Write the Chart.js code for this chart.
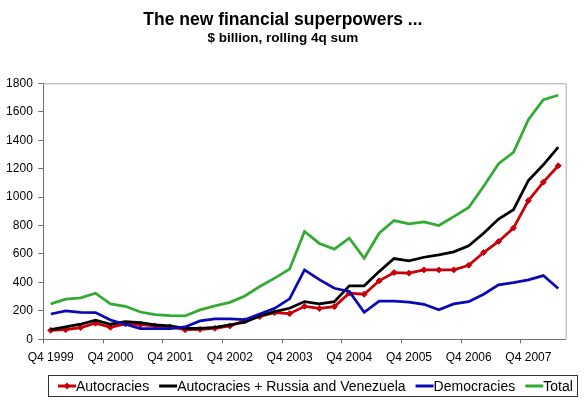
<!DOCTYPE html>
<html><head><meta charset="utf-8">
<script src="https://cdn.jsdelivr.net/npm/chart.js@4.4.1/dist/chart.umd.min.js"></script>
<style>html,body{margin:0;padding:0;background:#fff;}#wrap{width:587px;height:400px;position:relative;}</style>
</head><body><div id="wrap"><canvas id="c" width="587" height="400"></canvas></div>
<script>
const categories = [
  'Q4 1999',
  'Q1 2000','Q2 2000','Q3 2000','Q4 2000',
  'Q1 2001','Q2 2001','Q3 2001','Q4 2001',
  'Q1 2002','Q2 2002','Q3 2002','Q4 2002',
  'Q1 2003','Q2 2003','Q3 2003','Q4 2003',
  'Q1 2004','Q2 2004','Q3 2004','Q4 2004',
  'Q1 2005','Q2 2005','Q3 2005','Q4 2005',
  'Q1 2006','Q2 2006','Q3 2006','Q4 2006',
  'Q1 2007','Q2 2007','Q3 2007','Q4 2007',
  'Q1 2008','Q2 2008'
];
const xTickLabels = ['Q4 1999','Q4 2000','Q4 2001','Q4 2002','Q4 2003','Q4 2004','Q4 2005','Q4 2006','Q4 2007'];
const yTicks = [0,200,400,600,800,1000,1200,1400,1600,1800];

const seriesNames = ['Autocracies','Autocracies + Russia and Venezuela','Democracies','Total'];
const autocracies = [63,68,82,113,84,108,103,94,87,68,70,77,94,131,160,188,180,232,217,230,324,317,411,469,465,488,488,488,521,610,688,782,975,1105,1220];
const autocraciesRV = [68,87,106,134,106,124,117,101,94,77,77,84,101,120,164,195,218,265,249,265,376,376,476,568,552,577,594,615,657,746,845,911,1117,1227,1352];
const democracies = [178,200,190,188,136,106,75,75,75,87,129,143,143,138,178,218,284,488,420,359,336,190,268,268,261,246,207,249,265,317,383,399,418,448,357];
const total = [249,282,291,324,249,232,192,174,167,164,207,235,260,305,371,430,493,758,674,634,711,570,746,835,812,826,800,863,927,1075,1235,1314,1544,1685,1716];

const colors = ['#c8000a','#000000','#0a0ab4','#33aa33'];

Chart.defaults.font.family = "'Liberation Sans', Arial, sans-serif";
Chart.defaults.color = '#000';

const framePlugin = {
  id: 'frame',
  beforeDatasetsDraw(chart) {
    const a = chart.chartArea, ctx = chart.ctx;
    ctx.save();
    ctx.strokeStyle = '#a8a8a8';
    ctx.lineWidth = 1;
    ctx.beginPath();
    ctx.moveTo(a.left, a.top + 0.5);
    ctx.lineTo(a.right + 0.5, a.top + 0.5);
    ctx.lineTo(a.right + 0.5, a.bottom);
    ctx.stroke();
    ctx.restore();
  }
};

const legendPlugin = {
  id: 'customLegend',
  afterDraw(chart) {
    const ctx = chart.ctx;
    const boxL = 48.5, boxT = 375.5, boxR = 577.5, boxB = 396.5;
    const cy = (boxT + boxB) / 2;
    ctx.save();
    ctx.strokeStyle = '#333';
    ctx.lineWidth = 1;
    ctx.strokeRect(boxL, boxT, boxR - boxL, boxB - boxT);
    ctx.font = "14px 'Liberation Sans', Arial, sans-serif";
    ctx.textBaseline = 'middle';
    ctx.textAlign = 'left';
    let x = 58;
    chart.data.datasets.slice().sort((p, q) => p._idx - q._idx).forEach((ds) => {
      const lineLen = 18;
      ctx.strokeStyle = ds.borderColor;
      ctx.lineWidth = 3;
      ctx.beginPath();
      ctx.moveTo(x, cy);
      ctx.lineTo(x + lineLen, cy);
      ctx.stroke();
      if (ds.pointRadius > 0) {
        ctx.fillStyle = ds.borderColor;
        const r = 3.5, mx = x + lineLen / 2;
        ctx.beginPath();
        ctx.moveTo(mx, cy - r); ctx.lineTo(mx + r, cy); ctx.lineTo(mx, cy + r); ctx.lineTo(mx - r, cy);
        ctx.closePath(); ctx.fill();
      }
      x += lineLen;
      ctx.fillStyle = '#000';
      ctx.fillText(ds.label, x, cy + 1);
      x += ctx.measureText(ds.label).width + 10;
    });
    ctx.restore();
  }
};

const seriesData = [autocracies, autocraciesRV, democracies, total];
const datasets = seriesData.map((d, i) => ({
  _idx: i,
  label: seriesNames[i],
  data: d,
  borderColor: colors[i],
  backgroundColor: colors[i],
  borderWidth: 2.75,
  pointRadius: i === 0 ? 3 : 0,
  pointHoverRadius: i === 0 ? 3 : 0,
  pointStyle: 'rectRot',
  pointBackgroundColor: colors[i],
  pointBorderColor: colors[i],
  pointBorderWidth: 1,
  tension: 0,
  fill: false,
  order: 4 - i
}));

new Chart(document.getElementById('c'), {
  type: 'line',
  data: { labels: categories, datasets: datasets },
  plugins: [framePlugin, legendPlugin],
  options: {
    responsive: false,
    animation: false,
    layout: { padding: { left: 0, right: 21.3, top: 0, bottom: 0 } },
    plugins: {
      legend: { display: false },
      tooltip: { enabled: false },
      title: {
        display: true,
        text: 'The new financial superpowers ...',
        font: { size: 17.5, weight: 'bold' },
        color: '#000',
        padding: { top: 9.5, bottom: 0 }
      },
      subtitle: {
        display: true,
        text: '$ billion, rolling 4q sum',
        font: { size: 13.5, weight: 'bold' },
        color: '#000',
        padding: { top: 0, bottom: 36.6 }
      }
    },
    scales: {
      x: {
        type: 'category',
        offset: true,
        afterFit: (s) => { s.height = 60.7; },
        grid: {
          offset: true,
          drawOnChartArea: false,
          drawTicks: true,
          tickLength: 4,
          tickColor: (c) => (c.index % 4 === 0 ? '#707070' : 'rgba(0,0,0,0)'),
          tickWidth: 1
        },
        border: { display: true, color: '#707070', width: 1 },
        ticks: {
          autoSkip: false,
          maxRotation: 0,
          minRotation: 0,
          padding: 7,
          font: { size: 12 },
          color: '#000',
          callback: (v, i) => (xTickLabels.includes(categories[i]) ? categories[i] : '')
        }
      },
      y: {
        min: yTicks[0],
        max: yTicks[yTicks.length - 1],
        afterFit: (s) => { s.width = 43.3; },
        afterBuildTicks: (s) => { s.ticks = yTicks.map(v => ({ value: v })); },
        grid: {
          drawOnChartArea: false,
          drawTicks: true,
          tickLength: 5,
          tickColor: '#707070'
        },
        border: { display: true, color: '#707070', width: 1 },
        ticks: {
          padding: 5.5,
          font: { size: 12 },
          color: '#000',
          callback: (v) => String(v)
        }
      }
    }
  }
});
</script>
</body></html>
